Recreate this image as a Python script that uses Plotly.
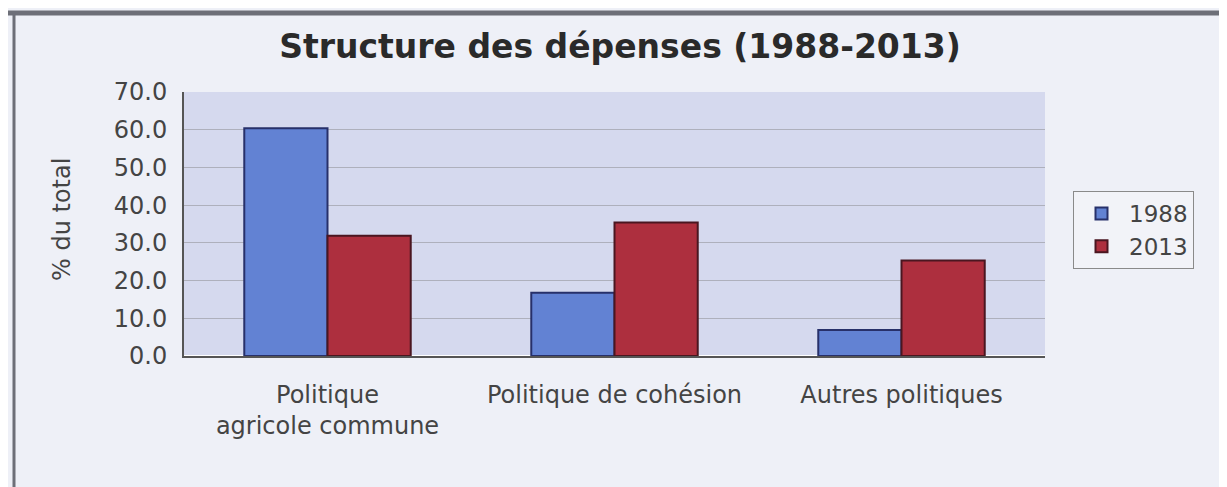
import plotly.graph_objects as go

categories = ["Politique<br>agricole commune", "Politique de cohésion", "Autres politiques"]
series_names = ["1988", "2013"]
values_1988 = [60.4, 16.8, 6.9]
values_2013 = [31.9, 35.4, 25.3]
y_ticks = [0, 10, 20, 30, 40, 50, 60, 70]

OFF = 8  # default page body margin
W, H = 1227 - OFF, 487 - OFF
L, R, T, B = 184 - OFF, 182, 92 - OFF, 131
pw, ph = W - L - R, H - T - B

def px(x):
    return (x - OFF - L) / pw

def py(y):
    return (H - B - (y - OFF)) / ph

fig = go.Figure()
fig.add_trace(go.Bar(name=series_names[0], x=categories, y=values_1988,
                     marker=dict(color="#6282d3", line=dict(color="#27306a", width=2))))
fig.add_trace(go.Bar(name=series_names[1], x=categories, y=values_2013,
                     marker=dict(color="#ad2f3e", line=dict(color="#4a1620", width=2))))

fig.update_layout(
    width=W, height=H,
    margin=dict(l=L, r=R, t=T, b=B),
    paper_bgcolor="#eef0f7",
    plot_bgcolor="#d5d9ee",
    barmode="group", bargap=0.42, bargroupgap=0,
    font=dict(family="DejaVu Sans, sans-serif", color="#333333"),
    title=dict(text="<b>Structure des dépenses (1988-2013)</b>", x=px(620), xanchor="center",
               xref="paper", y=1 - (46 - OFF) / H, yanchor="middle",
               font=dict(size=33, color="#2a2a2a", family="DejaVu Sans, sans-serif")),
    xaxis=dict(showgrid=False, showline=True, linecolor="#555555",
               linewidth=2, tickfont=dict(size=24, color="#444444"),
               ticks="", ticklabelstandoff=16),
    yaxis=dict(range=[0, 70], tickvals=y_ticks, tickformat=".1f",
               showgrid=True, gridcolor="#aeb0bc", gridwidth=1,
               showline=True, linecolor="#555555", linewidth=2,
               tickfont=dict(size=24, color="#444444"), ticks="", ticklabelstandoff=10),
    legend=dict(x=px(1073), y=py(191), xanchor="left", yanchor="top",
                bgcolor="#f2f3f8", bordercolor="#8a8a8a", borderwidth=1,
                font=dict(size=23, color="#444444"), tracegroupgap=0,
                itemwidth=45),
    showlegend=True,
    annotations=[
        dict(text="% du total", textangle=-90, xref="paper", yref="paper",
             x=px(62), y=py(220), showarrow=False, xanchor="center", yanchor="middle",
             font=dict(size=24, color="#444444")),
    ],
    shapes=[
        dict(type="line", xref="paper", yref="paper", x0=px(0), x1=px(1227), y0=py(13), y1=py(13),
             line=dict(color="#6d6f78", width=5)),
        dict(type="line", xref="paper", yref="paper", x0=px(14), x1=px(14), y0=py(13), y1=py(487),
             line=dict(color="#6d6f78", width=3)),
    ],
)

fig.write_html("out.html")
